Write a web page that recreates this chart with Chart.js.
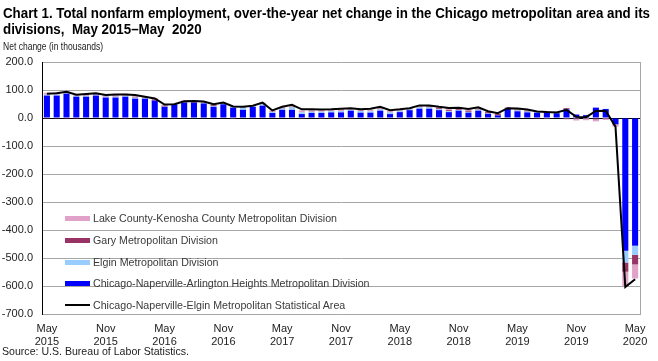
<!DOCTYPE html>
<html>
<head>
<meta charset="utf-8">
<script src="https://cdn.jsdelivr.net/npm/chart.js@4/dist/chart.umd.min.js"></script>
<style>
  html, body { margin:0; padding:0; background:#fff; }
  body { width:658px; height:361px; position:relative; overflow:hidden; font-family:"Liberation Sans", Arial, sans-serif; }
  #c { position:absolute; left:0; top:0; }
  .txt { position:absolute; white-space:pre; transform-origin:0 50%; color:#000; }
  #t1, #t2 { font-weight:bold; font-size:14px; }
  #t1 { left:3px; top:5px; }
  #t2 { left:3px; top:21px; }
  #sub { left:3px; top:40px; font-size:11px; color:#222; }
  #src { left:2px; top:345px; font-size:11.5px; color:#222; }
  .sw { position:absolute; left:65px; width:25px; }
  .lg { position:absolute; left:93px; font-size:11px; color:#3a3a3a; white-space:pre; transform-origin:0 50%; }
</style>
</head>
<body>
<canvas id="c" width="658" height="361"></canvas>
<div id="t1" class="txt">Chart 1. Total nonfarm employment, over-the-year net change in the Chicago metropolitan area and its</div>
<div id="t2" class="txt">divisions,  May 2015–May  2020</div>
<div id="sub" class="txt">Net change (in thousands)</div>
<div id="src" class="txt">Source: U.S. Bureau of Labor Statistics.</div>
<div id="legend"></div>
<script>
// ---- data ----
const categories = [
 'May 2015','Jun 2015','Jul 2015','Aug 2015','Sep 2015','Oct 2015','Nov 2015','Dec 2015',
 'Jan 2016','Feb 2016','Mar 2016','Apr 2016','May 2016','Jun 2016','Jul 2016','Aug 2016','Sep 2016','Oct 2016','Nov 2016','Dec 2016',
 'Jan 2017','Feb 2017','Mar 2017','Apr 2017','May 2017','Jun 2017','Jul 2017','Aug 2017','Sep 2017','Oct 2017','Nov 2017','Dec 2017',
 'Jan 2018','Feb 2018','Mar 2018','Apr 2018','May 2018','Jun 2018','Jul 2018','Aug 2018','Sep 2018','Oct 2018','Nov 2018','Dec 2018',
 'Jan 2019','Feb 2019','Mar 2019','Apr 2019','May 2019','Jun 2019','Jul 2019','Aug 2019','Sep 2019','Oct 2019','Nov 2019','Dec 2019',
 'Jan 2020','Feb 2020','Mar 2020','Apr 2020','May 2020'
];
const tickLabels = [
 ['May','2015'],['Nov','2015'],['May','2016'],['Nov','2016'],['May','2017'],['Nov','2017'],
 ['May','2018'],['Nov','2018'],['May','2019'],['Nov','2019'],['May','2020']
];
const chicagoNapervilleArlington = [80,80,87,76,76,80,73,73,76,69,69,62,40,49,55,55,52,40,49,37,29,40,44,18,29,29,14,18,18,20,20,26,19,19,26,14,21,28,33,33,28,21,26,19,26,15,9,32,24,20,19,19,17,31,12,10,37,32,-22,-474,-456];
const elgin = [3,3,2,3,3,2,3,3,3,4,2,-2,1,-2,-2,-2,2,3,2,3,7,2,6,3,5,9,6,4,4,5,5,4,6,5,5,6,4,3,5,5,4,3,3,3,4,2,-3,2,3,3,2,2,1,1,0,-1,-2,1,-1,-42,-33];
const gary = [-3,-3,-3,-3,1,1,1,1,-3,2,1,4,3,0,2,3,1,3,1,2,1,0,1,1,2,2,-3,1,-3,-3,-3,-3,1,-3,2,1,-3,1,2,3,3,4,3,4,3,4,5,3,3,3,-3,2,2,3,1,1,-3,-1,-2,-33,-34];
const lakeKenosha = [7,8,8,7,6,5,5,7,8,7,4,6,4,2,5,5,4,3,3,-1,3,2,4,5,4,7,7,7,6,5,6,5,5,6,6,5,5,3,4,4,4,6,4,5,4,3,3,-2,3,3,3,-3,3,-5,-9,-7,-7,-6,-6,-53,-50];
const chicagoMSA = [87,88,94,83,86,88,82,84,84,82,76,70,48,49,60,61,59,49,55,41,40,44,55,27,40,47,31,31,30,31,33,35,31,33,40,28,31,35,45,45,40,36,37,32,38,24,17,35,34,30,23,21,20,29,4,3,25,26,-31,-604,-576];
const yTicks = [200,100,0,-100,-200,-300,-400,-500,-600,-700];

const COLORS = { blue:'#0000ff', elgin:'#99ccff', gary:'#993366', lake:'#e0a2c8', line:'#000000' };

const barCommon = { type:'bar', stack:'s', order:2, categoryPercentage:1.0, barPercentage:0.62, borderWidth:0 };
const datasets = [
  Object.assign({ label:'Chicago-Naperville-Arlington Heights Metropolitan Division', data:chicagoNapervilleArlington, backgroundColor:COLORS.blue }, barCommon),
  Object.assign({ label:'Elgin Metropolitan Division', data:elgin, backgroundColor:COLORS.elgin }, barCommon),
  Object.assign({ label:'Gary Metropolitan Division', data:gary, backgroundColor:COLORS.gary }, barCommon),
  Object.assign({ label:'Lake County-Kenosha County Metropolitan Division', data:lakeKenosha, backgroundColor:COLORS.lake }, barCommon),
  { type:'line', label:'Chicago-Naperville-Elgin Metropolitan Statistical Area', data:chicagoMSA, borderColor:COLORS.line, borderWidth:2, pointRadius:0, tension:0, order:0, fill:false }
];

const rightBorder = {
  id:'rightBorder',
  beforeDatasetsDraw(chart){
    const {ctx, chartArea:a} = chart;
    ctx.save();
    ctx.strokeStyle = '#a6a6a6';
    ctx.lineWidth = 1;
    ctx.beginPath();
    ctx.moveTo(Math.round(a.right)+0.5, a.top);
    ctx.lineTo(Math.round(a.right)+0.5, a.bottom);
    ctx.stroke();
    ctx.restore();
  }
};

new Chart(document.getElementById('c'), {
  data: { labels: categories, datasets },
  plugins: [rightBorder],
  options: {
    responsive:false, animation:false, devicePixelRatio:1,
    layout:{ padding:{ top:62, right:18, bottom:0, left:0 } },
    plugins:{ legend:{ display:false }, tooltip:{ enabled:false }, title:{ display:false } },
    scales:{
      x:{
        stacked:true,
        grid:{ display:false },
        border:{ color:'#a6a6a6', width:1 },
        ticks:{
          autoSkip:false, maxRotation:0, minRotation:0, padding:0,
          color:'#222', font:{ family:'"Liberation Sans", Arial', size:11, lineHeight:1.2 },
          callback:(v, i) => (i % 6 === 0 ? tickLabels[i/6] : '')
        },
        afterFit:(s) => { s.height = 47; }
      },
      y:{
        stacked:true, min:-700, max:200,
        afterBuildTicks:(s) => { s.ticks = yTicks.map(v => ({ value:v })); },
        grid:{ drawTicks:false, color:(ctx) => (ctx.tick && ctx.tick.value === 0 ? '#000000' : '#a6a6a6'), lineWidth:1 },
        border:{ color:'#000000', width:1 },
        ticks:{ padding:9, color:'#222', font:{ family:'"Liberation Sans", Arial', size:11 }, callback:(v) => Number(v).toFixed(1) },
        afterFit:(s) => { s.width = 42; }
      }
    }
  }
});

// ---- HTML legend built from datasets (reverse order like reference) ----
const legendRows = [3,2,1,0,4];
const rowY = [218, 240, 262, 283, 305];
const leg = document.getElementById('legend');
legendRows.forEach((di, k) => {
  const ds = datasets[di];
  const sw = document.createElement('div');
  sw.className = 'sw';
  const h = ds.type === 'line' ? 2 : 5;
  sw.style.height = h + 'px';
  sw.style.top = (rowY[k] - h/2) + 'px';
  sw.style.background = ds.type === 'line' ? ds.borderColor : ds.backgroundColor;
  leg.appendChild(sw);
  const t = document.createElement('div');
  t.className = 'lg';
  t.textContent = ds.label;
  t.style.top = (rowY[k] - 7) + 'px';
  t.style.lineHeight = '14px';
  leg.appendChild(t);
});

// ---- fit text widths to the reference's condensed rendering ----
function fit(el, target){ const w = el.getBoundingClientRect().width; const f = target / w; el.style.transform = 'scaleX(' + f + ')'; return f; }
const f1 = fit(document.getElementById('t1'), 647);
document.getElementById('t2').style.transform = 'scaleX(' + f1 + ')';
fit(document.getElementById('sub'), 100);
fit(document.getElementById('src'), 187);
const lgs = document.querySelectorAll('.lg');
const lf = 244 / lgs[0].getBoundingClientRect().width;
lgs.forEach(e => e.style.transform = 'scaleX(' + lf + ')');
</script>
</body>
</html>
